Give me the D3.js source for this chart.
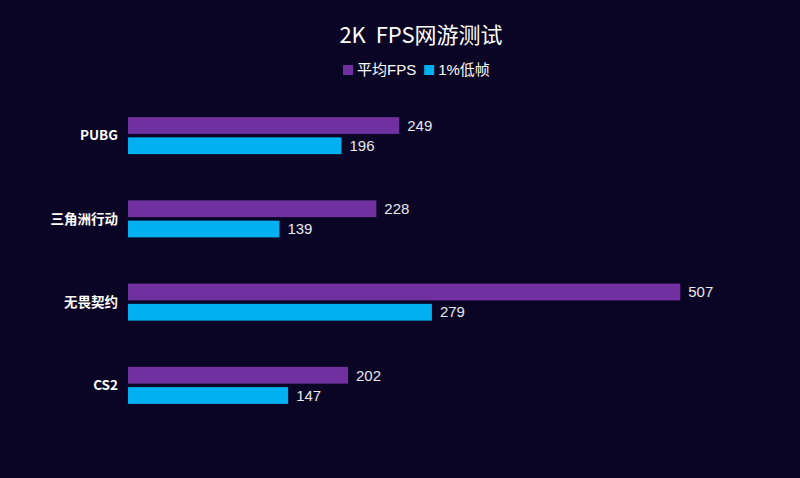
<!DOCTYPE html>
<html>
<head>
<meta charset="utf-8">
<script src="https://cdn.jsdelivr.net/npm/d3@7"></script>
<style>
  html, body { margin: 0; padding: 0; background: #0a0524; }
  svg { display: block; }
</style>
</head>
<body>
<svg id="drawing_region"></svg>
<script>
const categories = ['PUBG', '三角洲行动', '无畏契约', 'CS2'];
const seriesNames = ['平均FPS', '1%低帧'];
const avgFps = [249, 228, 507, 202];
const lowFps = [196, 139, 279, 147];
const colors = ['#7030a0', '#00b0f0'];

const config = {
    width: 800,
    height: 478,
    margin: { top: 94, right: 40, bottom: 51, left: 128 },
    title: '2K  FPS网游测试'
};

const innerWidth = config.width - config.margin.left - config.margin.right;
const innerHeight = config.height - config.margin.top - config.margin.bottom;

const svg = d3.select('#drawing_region')
    .attr('width', config.width)
    .attr('height', config.height);

svg.append('rect')
    .attr('width', config.width)
    .attr('height', config.height)
    .attr('fill', '#0a0524');

const chart = svg.append('g')
    .attr('transform', `translate(${config.margin.left}, ${config.margin.top})`);

// x: 1 unit ~ 1.09px, so 507 ends near 680
const xscale = d3.scaleLinear()
    .domain([0, 580])
    .range([0, 580 * 1.0893]);

const yscale = d3.scaleBand()
    .domain(categories)
    .range([0, innerHeight]);

const inner = d3.scaleBand()
    .domain(seriesNames)
    .range([yscale.bandwidth() / 2 - 18.5, yscale.bandwidth() / 2 + 18.5])
    .paddingInner(0.17);

const rows = categories.map((c, i) => ({ cat: c, values: [avgFps[i], lowFps[i]] }));

// category labels
chart.selectAll('text.cat')
    .data(categories)
    .enter()
    .append('text')
    .attr('class', 'cat')
    .attr('x', -10)
    .attr('y', d => yscale(d) + yscale.bandwidth() / 2)
    .attr('dy', '0.35em')
    .attr('text-anchor', 'end')
    .attr('fill', '#ffffff')
    .attr('font-size', 13.5)
    .attr('font-weight', 'bold')
    .attr('font-family', '"Noto Sans CJK SC", "Liberation Sans", sans-serif')
    .text(d => d);

const groups = chart.selectAll('.grp')
    .data(rows)
    .enter()
    .append('g')
    .attr('class', 'grp')
    .attr('transform', d => `translate(0, ${yscale(d.cat)})`);

groups.selectAll('rect')
    .data(d => d.values.map((v, j) => ({ name: seriesNames[j], value: v, j: j })))
    .enter()
    .append('rect')
    .attr('x', 0)
    .attr('y', d => inner(d.name))
    .attr('width', d => xscale(d.value))
    .attr('height', inner.bandwidth())
    .attr('fill', d => colors[d.j]);

groups.selectAll('text.val')
    .data(d => d.values.map((v, j) => ({ name: seriesNames[j], value: v, j: j })))
    .enter()
    .append('text')
    .attr('class', 'val')
    .attr('x', d => xscale(d.value) + 8)
    .attr('y', d => inner(d.name) + inner.bandwidth() / 2)
    .attr('dy', '0.35em')
    .attr('fill', '#e8e8f0')
    .attr('font-size', 15)
    .attr('font-family', '"Liberation Sans", Arial, sans-serif')
    .text(d => d.value);

// title
svg.append('text')
    .attr('x', 421)
    .attr('y', 43)
    .attr('text-anchor', 'middle')
    .attr('fill', '#ffffff')
    .attr('font-size', 22)
    .attr('font-family', '"Noto Sans CJK SC", "Liberation Sans", sans-serif')
    .style('white-space', 'pre')
    .text(config.title);

// legend
const legend = svg.append('g').attr('transform', 'translate(343, 70)');
const li = legend.selectAll('g')
    .data(seriesNames)
    .enter()
    .append('g');
li.append('rect')
    .attr('x', 0)
    .attr('y', -5)
    .attr('width', 10)
    .attr('height', 10)
    .attr('fill', (d, i) => colors[i]);
li.append('text')
    .attr('x', 14)
    .attr('y', 0)
    .attr('dy', '0.35em')
    .attr('fill', '#ffffff')
    .attr('font-size', 15)
    .attr('font-family', '"Liberation Sans", "Noto Sans CJK SC", sans-serif')
    .text(d => d);
let lx = 0;
li.each(function() {
    d3.select(this).attr('transform', `translate(${lx}, 0)`);
    lx += 14 + d3.select(this).select('text').node().getComputedTextLength() + 8;
});
</script>
</body>
</html>
